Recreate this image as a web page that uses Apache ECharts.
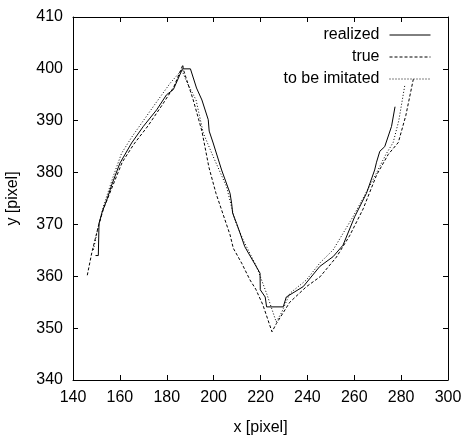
<!DOCTYPE html>
<html>
<head>
<meta charset="utf-8">
<script src="https://cdn.jsdelivr.net/npm/echarts@6/dist/echarts.min.js"></script>
<style>html,body{margin:0;padding:0;background:#fff}#c{width:462px;height:436px}</style>
</head>
<body>
<div id="c"></div>
<script>
const seriesNames = ['realized', 'true', 'to be imitated'];
const realizedX = [149.6, 150.8, 151.1, 152.5, 154.4, 156.5, 160.0, 165.0, 170.0, 175.7, 179.9, 182.8, 186.7, 190.1, 192.7, 195.0, 197.7, 198.1, 199.8, 203.4, 207.0, 207.7, 208.1, 209.8, 213.3, 219.8, 219.9, 222.0, 222.6, 229.7, 231.0, 238.2, 245.3, 251.0, 255.2, 260.2, 265.2, 268.7, 269.5, 270.9, 273.0, 275.9, 277.4];
const realizedY = [364.0, 364.0, 370.2, 372.5, 374.7, 377.6, 381.8, 385.7, 388.9, 392.1, 395.0, 396.0, 400.0, 400.0, 396.3, 394.0, 390.2, 388.0, 385.7, 380.5, 376.0, 374.0, 372.2, 370.2, 365.7, 360.6, 357.4, 356.0, 354.1, 354.1, 356.0, 358.0, 361.9, 363.8, 366.0, 371.5, 376.0, 380.5, 382.0, 384.1, 385.0, 388.9, 392.7];
const trueX = [146.1, 148.0, 150.8, 153.0, 157.0, 161.0, 166.0, 172.0, 178.0, 183.0, 186.9, 187.0, 189.5, 191.3, 195.0, 198.0, 201.0, 204.0, 207.0, 208.4, 212.0, 215.5, 218.0, 221.0, 224.9, 226.8, 232.5, 239.6, 245.4, 252.4, 258.0, 263.8, 269.5, 274.5, 278.8, 282.0, 285.2];
const trueY = [360.2, 364.5, 369.6, 373.0, 377.5, 382.0, 385.5, 389.0, 393.0, 396.5, 400.8, 400.0, 396.5, 394.0, 388.0, 381.0, 376.0, 372.0, 368.0, 365.4, 362.5, 359.3, 357.5, 354.5, 349.3, 350.9, 355.0, 358.0, 359.9, 363.7, 367.8, 373.0, 379.5, 383.5, 385.8, 391.0, 398.0];
const imitatedX = [148.7, 150.5, 153.0, 157.2, 160.7, 165.0, 170.0, 175.0, 181.4, 186.4, 188.5, 192.5, 195.6, 199.8, 205.5, 209.0, 212.6, 218.3, 222.6, 226.7, 229.0, 232.5, 239.6, 245.4, 251.0, 259.5, 268.0, 273.5, 276.6, 279.0, 281.6];
const imitatedY = [365.1, 369.0, 373.5, 379.3, 383.7, 386.8, 390.0, 393.2, 397.2, 399.8, 397.5, 394.0, 387.6, 383.1, 377.3, 370.9, 367.0, 361.9, 356.7, 351.2, 353.0, 356.7, 359.3, 362.6, 365.1, 371.5, 378.6, 383.5, 385.8, 390.0, 396.9];
const xTicks = {min: 140, max: 300, step: 20};
const yTicks = {min: 340, max: 410, step: 10};

const zip = (xs, ys) => xs.map((x, i) => [x, ys[i]]);
const FONT = '"Liberation Sans", Arial, Helvetica, sans-serif';
const chart = echarts.init(document.getElementById('c'), null, {renderer: 'canvas'});
const axisCommon = {
  axisLine: {show: true, onZero: false, lineStyle: {color: '#000', width: 1}},
  axisTick: {show: true, inside: true, length: 5, lineStyle: {color: '#000', width: 1}},
  splitLine: {show: false}
};
const styles = [
  {color: '#000', width: 1, type: 'solid'},
  {color: '#000', width: 1, type: [3, 2]},
  {color: '#000', width: 1, type: [1, 2]}
];
const datas = [zip(realizedX, realizedY), zip(trueX, trueY), zip(imitatedX, imitatedY)];
const legendTops = [27, 49, 71];
chart.setOption({
  animation: false,
  backgroundColor: '#fff',
  textStyle: {fontFamily: FONT},
  grid: {left: 73, right: 14, top: 17, bottom: 56, containLabel: false, outerBoundsMode: 'none'},
  legend: seriesNames.map((n, i) => ({
    data: [n], right: 31, top: legendTops[i], orient: 'vertical', align: 'right',
    padding: 0, itemWidth: 41, itemHeight: 14,
    itemStyle: {color: 'transparent', borderColor: 'transparent', borderWidth: 0, opacity: 0},
    lineStyle: styles[i],
    textStyle: {fontFamily: FONT, fontSize: 16, color: '#000', padding: [0, 5, 0, 0]},
    selectedMode: false
  })),
  xAxis: [
    Object.assign({type: 'value', position: 'bottom', min: xTicks.min, max: xTicks.max, interval: xTicks.step,
      name: 'x [pixel]', nameLocation: 'middle', nameGap: 40,
      nameTextStyle: {fontFamily: FONT, fontSize: 16, color: '#000'},
      axisLabel: {fontFamily: FONT, fontSize: 16, color: '#000', margin: 10}}, axisCommon),
    Object.assign({type: 'value', position: 'top', min: xTicks.min, max: xTicks.max, interval: xTicks.step,
      axisLabel: {show: false}}, axisCommon)
  ],
  yAxis: [
    Object.assign({type: 'value', position: 'left', min: yTicks.min, max: yTicks.max, interval: yTicks.step,
      name: 'y [pixel]', nameLocation: 'middle', nameGap: 52,
      nameTextStyle: {fontFamily: FONT, fontSize: 16, color: '#000'},
      axisLabel: {fontFamily: FONT, fontSize: 16, color: '#000', margin: 10}}, axisCommon),
    Object.assign({type: 'value', position: 'right', min: yTicks.min, max: yTicks.max, interval: yTicks.step,
      axisLabel: {show: false}}, axisCommon)
  ],
  series: seriesNames.map((n, i) => ({
    name: n, type: 'line', xAxisIndex: 0, yAxisIndex: 0,
    data: datas[i], showSymbol: false, symbol: 'none',
    lineStyle: styles[i], itemStyle: {color: '#000'}
  }))
});
</script>
</body>
</html>
